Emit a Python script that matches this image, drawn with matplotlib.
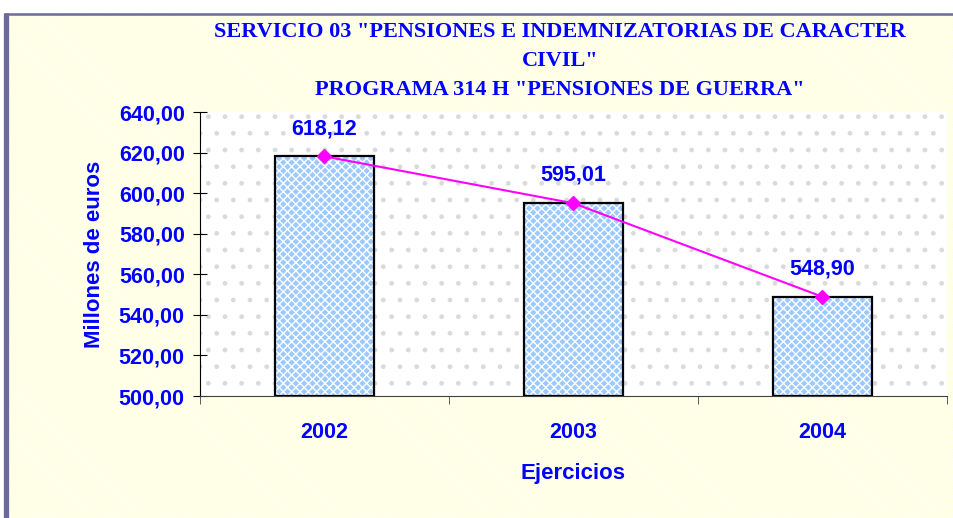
import matplotlib
matplotlib.use('Agg')
import matplotlib.pyplot as plt
from matplotlib.patches import Rectangle
from matplotlib.lines import Line2D

years = ['2002', '2003', '2004']
amounts = [618.12, 595.01, 548.90]
amount_labels = ['618,12', '595,01', '548,90']
y_ticks = [500, 520, 540, 560, 580, 600, 620, 640]
y_tick_labels = ['500,00', '520,00', '540,00', '560,00', '580,00', '600,00', '620,00', '640,00']

title_lines = ['SERVICIO 03 "PENSIONES E INDEMNIZATORIAS DE CARACTER',
               'CIVIL"',
               'PROGRAMA 314 H "PENSIONES DE GUERRA"']

blue = '#0000ff'
plt.rcParams['font.family'] = ['Liberation Sans', 'DejaVu Sans']

fig = plt.figure(figsize=(9.54, 5.18), dpi=100)
fig.patch.set_facecolor('white')

# pale yellow striped chart area with slate frame
W, H = 954.0, 518.0
bg = Rectangle((6 / W, -0.1), 1.1, 1 - 15 / H + 0.1, transform=fig.transFigure,
               facecolor='#fffffd', edgecolor='#ffffe0', hatch='\\' * 12, lw=0, zorder=-10)
fig.patches.append(bg)
fig.add_artist(Line2D([6.5 / W, 6.5 / W], [-0.1, 1 - 13 / H], transform=fig.transFigure,
                      color='#6b6b9b', lw=3.8, solid_capstyle='butt'))
fig.add_artist(Line2D([4 / W, 1.1], [1 - 14 / H, 1 - 14 / H], transform=fig.transFigure,
                      color='#6b6b9b', lw=1.8, solid_capstyle='butt'))

ax = fig.add_axes([200 / W, 1 - 396 / H, 747 / W, 284 / H])
ax.set_facecolor('white')
ax.add_patch(Rectangle((0, 0), 1, 1, transform=ax.transAxes, facecolor='white',
                       edgecolor='#dadada', hatch='.', lw=0, zorder=0))

x = range(len(years))
ax.bar(x, [a - 500 for a in amounts], bottom=500, width=0.4, color='#9ccaff',
       edgecolor='white', hatch='xxxx', lw=0, zorder=2)
ax.bar(x, [a - 500 for a in amounts], bottom=500, width=0.4, facecolor='none',
       edgecolor='black', lw=1.6, zorder=3)
ax.plot(x, amounts, color='#ff00ff', lw=1.5, marker='D', markersize=7, zorder=4)

for xi, a, lab in zip(x, amounts, amount_labels):
    ax.annotate(lab, (xi, a), xytext=(0, 20), textcoords='offset points',
                ha='center', va='center', color=blue, fontsize=15.5, fontweight='bold')

ax.set_xlim(-0.5, 2.5)
ax.set_ylim(500, 640)
ax.set_yticks(y_ticks)
ax.set_yticklabels(y_tick_labels, color=blue, fontsize=15.5, fontweight='bold')
ax.set_xticks(list(x))
ax.set_xticklabels(years, color=blue, fontsize=15.5, fontweight='bold')
ax.set_xticks([-0.5, 0.5, 1.5, 2.5], minor=True)
ax.tick_params(axis='x', which='major', length=0, pad=19)
ax.tick_params(axis='x', which='minor', length=6, direction='out', color='#404040')
ax.tick_params(axis='y', length=10, direction='inout', pad=6)

for s in ['top', 'right']:
    ax.spines[s].set_visible(False)
ax.spines['left'].set_color('black')
ax.spines['bottom'].set_color('#404040')

ax.set_ylabel('Millones de euros', color=blue, fontsize=16, fontweight='bold', labelpad=10)
ax.set_xlabel('Ejercicios', color=blue, fontsize=16, fontweight='bold', labelpad=14)

for i, line in enumerate(title_lines):
    fig.text(560 / W, 1 - (32 + 29 * i) / H, line, ha='center', va='center', color=blue,
             fontsize=16, fontweight='bold', family=['Liberation Serif', 'DejaVu Serif'])

fig.savefig('out.png', dpi=100)
